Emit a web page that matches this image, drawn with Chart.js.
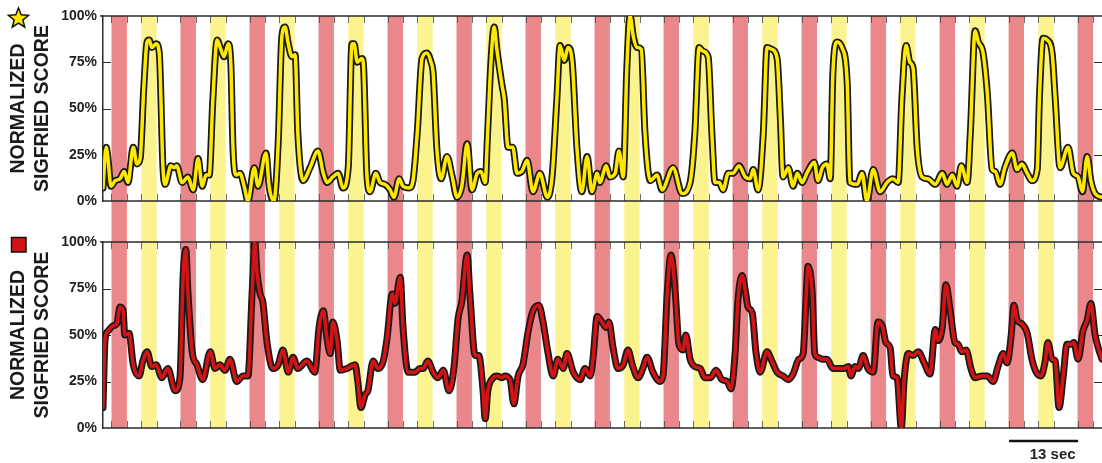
<!DOCTYPE html>
<html lang="en">
<head>
  <meta charset="UTF-8">
  <title>Normalized Sigfried Score</title>
  <script src="https://cdn.jsdelivr.net/npm/chart.js"></script>
  <style>
    body { margin: 0; background: #ffffff; }
    .panel { position: absolute; left: 0; width: 1102px; }
    #topPanel { top: 0; height: 222px; }
    #bottomPanel { top: 222px; height: 241px; }
  </style>
</head>
<body>

<div class="panel" id="topPanel"><canvas id="topChart"></canvas></div>
<div class="panel" id="bottomPanel"><canvas id="bottomChart"></canvas></div>

<script>
// time axis (sec)
const xMax = 188.2;

// stimulus windows (onset in sec, each lasts stimDuration)
const redOnsets = [1.6, 14.6, 27.6, 40.6, 53.6, 66.6, 79.6, 92.6, 105.6, 118.6, 131.6, 144.6, 157.6, 170.6, 183.6];
const yellowOnsets = [7.2, 20.2, 33.2, 46.2, 59.2, 72.2, 85.2, 98.2, 111.2, 124.2, 137.2, 150.2, 163.2, 176.2];
const stimDuration = 2.9;

// scale bar
const scaleBarStart = 170.7;
const scaleBarLength = 13;
const scaleBarLabel = '13 sec';

// y axis
const yTicks = [0, 25, 50, 75, 100];
const yTitle = ['NORMALIZED', 'SIGFRIED SCORE'];

// star series (top)
const topTimes = [0.0,0.6,0.9,1.5,2.3,3.2,4.0,4.7,5.7,6.4,
  7.0,7.7,8.3,8.7,9.2,10.0,10.6,11.3,11.7,12.8,
  13.4,13.9,14.9,16.0,17.0,17.9,18.7,19.4,20.0,20.7,
  21.5,22.2,22.8,23.6,24.1,24.5,25.1,25.8,26.6,27.3,
  28.5,29.2,30.7,31.3,32.2,33.0,33.7,34.3,34.9,35.6,
  36.2,36.7,37.7,39.0,40.5,41.5,42.2,43.3,44.3,45.2,
  46.2,46.9,47.3,47.9,48.8,49.1,49.7,50.3,51.4,52.2,
  53.1,54.1,54.8,55.8,56.5,57.7,58.4,59.2,60.1,61.0,
  61.8,62.2,62.9,63.7,64.8,65.8,66.7,67.6,68.6,69.5,
  70.5,71.2,72.0,72.4,73.1,73.7,74.2,75.2,75.6,76.3,
  77.2,78.0,78.9,79.9,81.0,82.3,83.7,84.6,85.5,86.1,
  86.9,87.6,88.4,89.3,90.2,91.2,92.1,93.1,93.6,94.8,
  95.5,96.5,97.2,98.0,98.7,99.3,99.9,100.6,101.4,102.1,
  103.1,104.4,105.3,107.4,109.1,110.6,111.5,112.3,113.0,114.0,
  114.7,115.3,116.1,116.8,117.8,118.7,119.8,121.0,121.9,122.5,
  123.4,124.4,125.1,126.0,127.0,127.6,128.1,129.1,130.0,130.8,
  131.7,132.6,134.0,134.7,135.5,136.4,137.0,137.5,138.3,139.2,
  140.2,140.7,142.1,143.0,143.9,145.1,146.4,147.7,148.8,149.8,
  150.5,151.3,152.0,152.6,153.4,154.3,155.4,156.8,158.1,159.0,
  160.0,160.9,161.7,162.8,163.4,164.3,164.9,165.8,166.6,167.5,
  168.1,169.0,169.9,171.3,172.2,173.1,174.1,175.0,176.0,176.4,
  177.1,177.9,178.8,179.4,180.3,181.8,182.8,183.7,184.5,185.4,
  186.1,186.9,188.2];
const topScores = [7,29,24,8,11,12,16,10,29,20,
  23,62,86,87,83,85,80,18,9,19,
  18,19,10,13,6,23,8,14,14,55,
  87,82,78,85,73,28,14,15,8,0,
  18,8,26,8,0,31,89,94,85,78,
  79,37,11,18,27,15,10,13,15,7,
  18,85,85,75,77,72,15,5,15,10,
  9,6,2,12,8,7,11,37,77,80,
  75,69,28,12,24,13,2,8,31,6,
  15,16,10,33,76,94,82,62,55,29,
  29,15,16,22,5,15,2,13,55,84,
  76,83,75,28,5,24,5,15,10,19,
  13,15,27,13,73,100,89,83,82,37,
  11,14,6,18,4,10,37,83,81,78,
  37,10,10,6,15,15,19,13,12,17,
  6,37,83,82,77,45,13,18,8,15,
  10,15,21,11,18,20,12,69,86,83,
  64,10,9,15,0,17,5,10,12,10,
  55,84,75,72,28,13,12,9,15,9,
  14,8,19,10,37,92,86,80,58,17,
  16,9,18,26,17,20,15,11,17,55,
  88,87,80,55,18,29,15,13,5,24,
  11,4,2];

// square series (bottom)
const bottomTimes = [0.0,0.4,0.9,1.9,2.6,3.2,3.8,4.1,4.9,5.7,
  6.8,7.5,8.3,9.2,10.0,11.1,12.2,13.6,14.5,15.1,
  15.6,16.0,16.8,17.7,18.8,20.2,21.1,22.0,23.0,23.9,
  25.2,26.4,27.3,28.1,28.6,29.0,29.6,30.1,30.9,32.0,
  33.0,33.9,34.9,35.8,36.7,38.4,39.9,40.7,41.5,42.2,
  42.8,43.3,44.1,44.7,46.0,47.5,48.0,48.6,49.4,49.9,
  50.9,51.8,52.8,53.5,54.5,55.0,56.0,56.5,57.5,58.8,
  59.7,60.3,61.2,62.2,63.1,64.1,65.2,66.1,66.9,67.6,
  68.6,69.1,70.1,70.8,71.6,72.0,72.5,73.5,74.2,75.2,
  75.7,76.7,77.4,78.2,79.1,80.1,81.0,82.1,82.9,83.8,
  84.8,85.7,86.7,87.4,88.6,89.9,90.8,91.8,92.3,93.1,
  94.0,94.8,95.3,96.1,97.0,98.0,98.9,99.7,100.8,101.7,
  102.5,103.6,104.9,105.5,106.3,107.0,107.8,108.5,109.3,109.8,
  110.6,111.5,112.5,113.4,114.4,115.5,116.6,117.6,118.3,119.1,
  119.6,120.4,121.0,121.5,122.3,123.0,123.8,125.1,126.0,127.0,
  128.1,129.1,130.0,131.1,131.9,132.5,132.8,133.6,134.1,134.7,
  135.5,136.4,137.5,138.5,139.6,140.4,140.9,141.7,142.3,143.2,
  144.1,145.1,146.0,146.8,147.5,148.3,148.8,149.6,150.4,150.9,
  151.7,152.6,153.6,154.7,155.8,156.8,157.3,158.1,158.8,159.6,
  160.5,161.1,161.8,162.6,163.5,164.3,165.6,166.6,167.7,168.6,
  169.6,170.3,171.1,171.6,172.2,173.1,174.1,175.0,175.8,176.7,
  177.5,178.0,178.8,179.4,180.1,180.9,181.6,182.4,182.9,183.7,
  184.6,185.4,186.1,186.9,187.5,188.2];
const bottomScores = [11,48,52,55,56,65,63,50,51,34,
  28,36,41,33,34,27,32,20,27,82,
  96,73,41,34,26,41,32,34,31,37,
  25,28,28,73,100,84,72,68,46,32,
  34,42,30,38,32,36,30,54,63,48,
  40,57,47,31,32,34,25,11,18,20,
  36,32,36,48,72,67,81,55,30,30,
  32,32,36,30,27,31,20,32,59,68,
  93,73,39,39,20,5,20,27,28,27,
  28,26,13,28,34,52,63,66,57,41,
  28,37,32,40,30,26,32,28,37,60,
  57,54,57,43,32,34,42,34,27,32,
  38,30,25,28,73,93,73,45,42,50,
  37,33,32,27,27,31,26,25,21,41,
  68,82,74,65,62,41,30,41,36,30,
  28,26,29,37,40,73,87,73,40,38,
  37,37,32,32,32,33,28,33,32,39,
  32,30,57,55,46,43,28,27,0,25,
  40,39,41,35,29,53,47,54,77,63,
  46,45,41,42,32,27,28,28,25,33,
  40,35,50,66,58,56,51,37,30,28,
  36,46,37,36,11,28,45,45,46,37,
  52,58,67,50,43,37];

const FONT = '"Liberation Sans", Arial, Helvetica, sans-serif';
const INK = '#222222';
const RED_BAND = '#e9878b';
const YELLOW_BAND = '#fbf48e';

function drawStar(ctx, cx, cy, R, r) {
  ctx.beginPath();
  for (let i = 0; i < 10; i++) {
    const a = -Math.PI / 2 + i * Math.PI / 5;
    const rad = i % 2 === 0 ? R : r;
    ctx.lineTo(cx + rad * Math.cos(a), cy + rad * Math.sin(a));
  }
  ctx.closePath();
}

// bands, frame, ticks, icon and scale bar
const panelPlugin = {
  id: 'panel',
  beforeDatasetsDraw(chart, args, opts) {
    const { ctx, chartArea: a, scales: { x, y } } = chart;
    const y0 = opts.top ? a.top : 0;
    const y1 = opts.top ? chart.height : a.bottom;
    ctx.save();
    ctx.beginPath();
    ctx.rect(a.left, 0, a.right - a.left, chart.height);
    ctx.clip();

    const bands = (onsets, color) => onsets.forEach(t => {
      const l = x.getPixelForValue(t);
      const r = x.getPixelForValue(t + stimDuration);
      ctx.fillStyle = color;
      ctx.fillRect(l, y0, r - l, y1 - y0);
    });
    bands(redOnsets, RED_BAND);
    bands(yellowOnsets, YELLOW_BAND);

    // little marks at every band edge
    ctx.strokeStyle = 'rgba(60,60,60,0.75)';
    ctx.lineWidth = 1;
    redOnsets.concat(yellowOnsets).forEach(t => {
      [t, t + stimDuration].forEach(v => {
        const px = Math.round(x.getPixelForValue(v)) + 0.5;
        ctx.beginPath();
        ctx.moveTo(px, a.top); ctx.lineTo(px, a.top + 7);
        ctx.moveTo(px, a.bottom); ctx.lineTo(px, a.bottom - 7);
        ctx.stroke();
      });
    });
    ctx.restore();

    // frame
    ctx.save();
    ctx.strokeStyle = '#2b2b2b';
    ctx.lineWidth = 1.5;
    ctx.beginPath();
    ctx.moveTo(a.left - 3, a.top); ctx.lineTo(a.right, a.top);
    ctx.moveTo(a.left, a.bottom); ctx.lineTo(a.right, a.bottom);
    ctx.stroke();
    ctx.lineWidth = 1;
    yTicks.slice(1, -1).forEach(v => {
      const py = Math.round(y.getPixelForValue(v)) + 0.5;
      ctx.beginPath();
      ctx.moveTo(a.left, py); ctx.lineTo(a.left + 8, py);
      ctx.moveTo(a.right, py); ctx.lineTo(a.right - 8, py);
      ctx.stroke();
    });
    ctx.restore();
  },
  afterDraw(chart, args, opts) {
    const { ctx, scales: { x } } = chart;
    ctx.save();
    ctx.strokeStyle = '#111';
    ctx.lineWidth = 1.5;
    if (opts.icon === 'star') {
      drawStar(ctx, 18.5, 18.5, 10.5, 4.6);
      ctx.fillStyle = '#ffe800';
    } else {
      ctx.beginPath();
      ctx.rect(11.5, 15.5, 14.5, 14.5);
      ctx.fillStyle = '#d41414';
    }
    ctx.fill();
    ctx.stroke();

    if (opts.scaleBar) {
      const l = x.getPixelForValue(scaleBarStart);
      const r = x.getPixelForValue(scaleBarStart + scaleBarLength);
      ctx.strokeStyle = '#111';
      ctx.lineWidth = 2.5;
      ctx.beginPath();
      ctx.moveTo(l, 219); ctx.lineTo(r, 219);
      ctx.stroke();
      ctx.fillStyle = INK;
      ctx.font = 'bold 15px ' + FONT;
      ctx.textAlign = 'center';
      ctx.textBaseline = 'middle';
      ctx.fillText(scaleBarLabel, x.getPixelForValue(scaleBarStart + 8.2), 233);
    }
    ctx.restore();
  }
};

function makeChart(canvasId, times, scores, lineColor, panelOpts, padding) {
  const pts = times.map((t, i) => ({ x: t, y: scores[i] }));
  const lineStyle = {
    data: pts,
    pointRadius: 0,
    cubicInterpolationMode: 'monotone',
    borderJoinStyle: 'round',
    borderCapStyle: 'round',
    fill: false
  };
  return new Chart(document.getElementById(canvasId), {
    type: 'line',
    data: {
      datasets: [
        Object.assign({}, lineStyle, { borderColor: '#1a1a1a', borderWidth: 7, order: 2 }),
        Object.assign({}, lineStyle, { borderColor: lineColor, borderWidth: 3.5, order: 1 })
      ]
    },
    options: {
      responsive: true,
      maintainAspectRatio: false,
      animation: false,
      events: [],
      layout: { padding: padding },
      plugins: {
        legend: { display: false },
        tooltip: { enabled: false },
        panel: panelOpts
      },
      scales: {
        x: { type: 'linear', min: 0, max: xMax, display: false },
        y: {
          min: 0, max: 100,
          afterFit: s => { s.width = 103; },
          afterBuildTicks: s => { s.ticks = yTicks.map(v => ({ value: v })); },
          grid: { display: false, drawTicks: false },
          border: { display: true, color: '#2b2b2b', width: 1.5 },
          ticks: {
            padding: 6,
            color: INK,
            font: { family: FONT, size: 14, weight: 'bold' },
            callback: v => v + '%'
          },
          title: {
            display: true,
            text: yTitle,
            color: '#1a1a1a',
            font: { family: FONT, size: 19.5, weight: 'bold', lineHeight: 24 / 19.5 },
            padding: { top: 7, bottom: 0 }
          }
        }
      }
    },
    plugins: [panelPlugin]
  });
}

makeChart('topChart', topTimes, topScores, '#ffe800',
  { top: true, icon: 'star' }, { top: 16, bottom: 21, left: 0, right: 0 });
makeChart('bottomChart', bottomTimes, bottomScores, '#d41414',
  { top: false, icon: 'square', scaleBar: true }, { top: 20, bottom: 35, left: 0, right: 0 });
</script>

</body>
</html>
